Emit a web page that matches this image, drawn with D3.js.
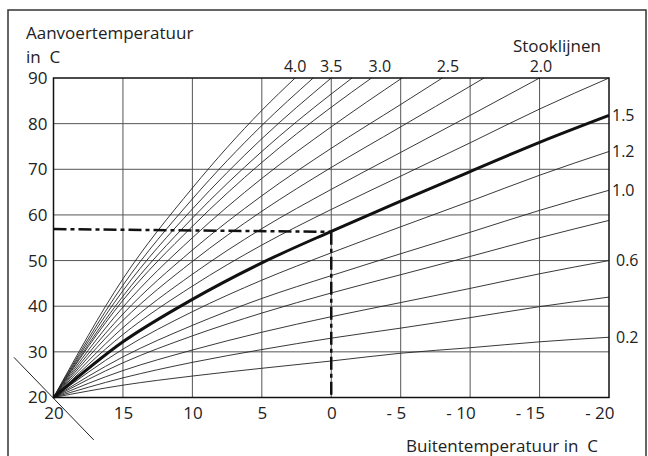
<!DOCTYPE html>
<html><head><meta charset="utf-8">
<script src="https://cdn.jsdelivr.net/npm/d3@7"></script>
<style>
html,body{margin:0;padding:0;background:#fff;}
svg text{font-family:"Open Sans",sans-serif;fill:#222;}
</style></head>
<body>
<svg id="c" width="648" height="456"></svg>
<script>
// ---- data ----
const xTicks = [20, 15, 10, 5, 0, -5, -10, -15, -20];
const xTickLabels = ["20", "15", "10", "5", "0", "- 5", "- 10", "- 15", "- 20"];
const yTicks = [20, 30, 40, 50, 60, 70, 80, 90];
const yTickLabels = ["20", "30", "40", "50", "60", "70", "80", "90"];

// heating curves: [outside temp, flow temp]
const curve02 = [[20,20],[15,22.7],[10,24.7],[5,26.4],[0,28.0],[-5,29.7],[-10,30.9],[-15,32.2],[-20,33.2]];
const curve04 = [[20,20],[15,24.3],[10,27.7],[5,30.5],[0,33.0],[-5,35.2],[-10,37.5],[-15,39.9],[-20,42.0]];
const curve06 = [[20,20],[15,25.9],[10,30.4],[5,34.3],[0,37.7],[-5,40.8],[-10,43.9],[-15,47.1],[-20,50.0]];
const curve08 = [[20,20],[15,27.6],[10,33.5],[5,38.5],[0,42.9],[-5,46.9],[-10,50.9],[-15,55.0],[-20,58.8]];
const curve10 = [[20,20],[15,28.9],[10,35.8],[5,41.7],[0,46.7],[-5,51.5],[-10,56.2],[-15,61.0],[-20,65.4]];
const curve12 = [[20,20],[15,30.6],[10,38.8],[5,45.7],[0,51.7],[-5,57.4],[-10,63.0],[-15,68.7],[-20,73.9]];
const curve15 = [[20,20],[15,32.2],[10,41.5],[5,49.5],[0,56.4],[-5,63.0],[-10,69.5],[-15,75.9],[-20,81.8]];
const curve17 = [[20,20],[15,33.8],[10,44.4],[5,53.4],[0,61.2],[-5,68.5],[-10,75.8],[-15,83.2],[-20,90]];
const curve20 = [[20,20],[15,35.3],[10,47.0],[5,57.0],[0,65.6],[-5,73.7],[-10,81.8],[-15,90]];
const curve22 = [[20,20],[15,36.9],[10,49.8],[5,60.8],[0,70.4],[-5,79.3],[-10,88.2],[-11,90]];
const curve25 = [[20,20],[15,38.3],[10,52.3],[5,64.2],[0,74.6],[-5,84.2],[-8,90]];
const curve27 = [[20,20],[15,39.8],[10,55.0],[5,68.0],[0,79.3],[-5.1,90]];
const curve30 = [[20,20],[15,41.3],[10,57.5],[5,71.5],[0,83.6],[-2.9,90]];
const curve32 = [[20,20],[15,42.2],[10,59.3],[5,73.9],[0,86.5],[-1.5,90]];
const curve35 = [[20,20],[15,43.4],[10,61.3],[5,76.7],[0,90]];
const curve37 = [[20,20],[15,44.6],[10,63.5],[5,79.6],[1.3,90]];
const curve40 = [[20,20],[15,46.0],[10,65.9],[5,82.9],[2.6,90]];

const thinCurves = [curve02, curve04, curve06, curve08, curve10, curve12, curve17, curve20,
                    curve22, curve25, curve27, curve30, curve32, curve35, curve37, curve40];
const thickCurve = curve15;

const rightLabels = ["1.5", "1.2", "1.0", "0.6", "0.2"];
const rightLabelCurves = [curve15, curve12, curve10, curve06, curve02];
const topLabels = ["4.0", "3.5", "3.0", "2.5", "2.0"];
const topLabelX = [2.6, 0, -3.5, -8.4, -15.1];

// example reading (dash-dot)
const exampleH = [[20, 56.9], [0, 56.3]];
const exampleV = [[0, 56.3], [0, 20]];
// diagonal reference line through the foot point
const footLine = [[22.85, 28.8], [17.1, 10.7]];

// ---- drawing ----
const svg = d3.select("#c");
const x = d3.scaleLinear().domain([20, -20]).range([53.5, 609]);
const y = d3.scaleLinear().domain([20, 90]).range([397.5, 78]);

// outer frame
svg.append("rect").attr("x", 8).attr("y", 10).attr("width", 638).attr("height", 470)
  .attr("fill", "none").attr("stroke", "#333").attr("stroke-width", 1.5);

// grid
const g = svg.append("g");
g.selectAll(".vg").data(xTicks.slice(1, -1)).join("line")
  .attr("x1", d => x(d)).attr("x2", d => x(d)).attr("y1", y(20)).attr("y2", y(90))
  .attr("stroke", "#555").attr("stroke-width", 1);
g.selectAll(".hg").data(yTicks.slice(1, -1)).join("line")
  .attr("y1", d => y(d)).attr("y2", d => y(d)).attr("x1", x(20)).attr("x2", x(-20))
  .attr("stroke", "#555").attr("stroke-width", 1);

const line = d3.line().x(d => x(d[0])).y(d => y(d[1])).curve(d3.curveMonotoneX);

svg.append("g").selectAll("path").data(thinCurves).join("path")
  .attr("d", line).attr("fill", "none").attr("stroke", "#222").attr("stroke-width", 0.9);

svg.append("path").datum(thickCurve).attr("d", line)
  .attr("fill", "none").attr("stroke", "#111").attr("stroke-width", 3);

// dash-dot example
const straight = d3.line().x(d => x(d[0])).y(d => y(d[1]));
[exampleH, exampleV].forEach(p => {
  svg.append("path").datum(p).attr("d", straight).attr("fill", "none")
    .attr("stroke", "#111").attr("stroke-width", 2.5).attr("stroke-dasharray", "13,4,4,4");
});

// foot line
svg.append("path").datum(footLine).attr("d", straight).attr("fill", "none")
  .attr("stroke", "#222").attr("stroke-width", 1);

// plot border
svg.append("rect").attr("x", x(20)).attr("y", y(90))
  .attr("width", x(-20) - x(20)).attr("height", y(20) - y(90))
  .attr("fill", "none").attr("stroke", "#111").attr("stroke-width", 1.5);

// axes
const ya = svg.append("g").attr("transform", `translate(${x(20)},0)`)
  .call(d3.axisLeft(y).tickValues(yTicks).tickSize(0).tickPadding(6)
    .tickFormat((d, i) => yTickLabels[i]));
ya.select(".domain").remove();
ya.selectAll("text").attr("font-size", 17).attr("font-family", "Open Sans").attr("fill", "#222");

const xa = svg.append("g").attr("transform", `translate(0,${y(20)})`)
  .call(d3.axisBottom(x).tickValues(xTicks).tickSize(0).tickPadding(9)
    .tickFormat((d, i) => xTickLabels[i]));
xa.select(".domain").remove();
xa.selectAll("text").attr("font-size", 17).attr("font-family", "Open Sans").attr("fill", "#222")
  .attr("text-anchor", d => d < 0 ? "end" : "middle")
  .attr("dx", d => d < 0 ? 5 : 0);

// titles
svg.append("text").attr("x", 26).attr("y", 39).attr("font-size", 17).text("Aanvoertemperatuur");
svg.append("text").attr("x", 26).attr("y", 63).attr("font-size", 17).text("in\u00a0\u00a0C");
svg.append("text").attr("x", 598).attr("y", 452).attr("font-size", 17).attr("text-anchor", "end")
  .text("Buitentemperatuur in\u00a0\u00a0C");
svg.append("text").attr("x", 601).attr("y", 52).attr("font-size", 17).attr("text-anchor", "end")
  .text("Stooklijnen");

// curve labels
svg.append("g").selectAll("text").data(rightLabels).join("text")
  .attr("x", (d, i) => x(-20) + (i >= 3 ? 7 : 3))
  .attr("y", (d, i) => y(rightLabelCurves[i][rightLabelCurves[i].length - 1][1]))
  .attr("dy", "0.36em").attr("font-size", 16).text(d => d);
svg.append("g").selectAll("text").data(topLabels).join("text")
  .attr("x", (d, i) => x(topLabelX[i])).attr("y", y(90) - 6)
  .attr("text-anchor", "middle").attr("font-size", 16).text(d => d);
</script>
</body></html>
